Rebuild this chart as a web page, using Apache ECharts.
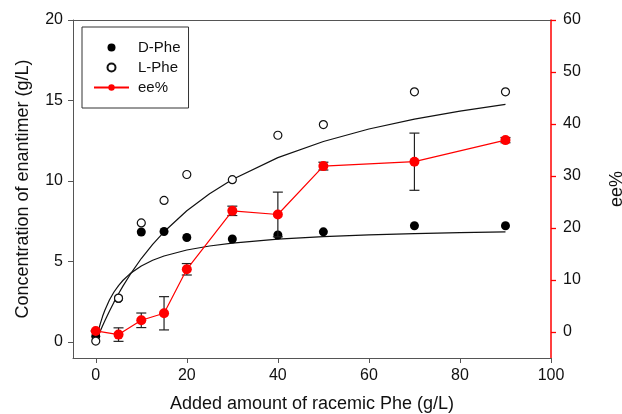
<!DOCTYPE html>
<html>
<head>
<meta charset="utf-8">
<style>
  html, body { margin: 0; padding: 0; background: #fff; }
  #main { width: 622px; height: 414px; }
</style>
<script src="https://cdn.jsdelivr.net/npm/echarts@6/dist/echarts.min.js"></script>
</head>
<body>
<div id="main"></div>
<script>
// 外消旋Phe添加量 (g/L)
var added = [0, 5, 10, 15, 20, 30, 40, 50, 70, 90];
var dPhe = [0.35, 2.7, 6.83, 6.86, 6.49, 6.39, 6.64, 6.84, 7.22, 7.22];
var lPhe = [0.05, 2.72, 7.39, 8.79, 10.4, 10.08, 12.84, 13.5, 15.54, 15.54];
var ee = [0.2, -0.5, 2.25, 3.6, 12.06, 23.3, 22.6, 31.9, 32.75, 36.9];
var eeErr = [0, 1.3, 1.4, 3.2, 1.1, 0.9, 4.3, 0.75, 5.5, 0.5];

// fitted curves
var fitX = [0, 0.5, 1, 1.5, 2, 3, 4, 5, 6, 7.5, 10, 12.5, 15, 20, 25, 30, 40, 50, 60, 70, 80, 90];
var fitD = [0, 0.62, 1.14, 1.59, 1.97, 2.6, 3.1, 3.5, 3.83, 4.23, 4.72, 5.07, 5.34, 5.71, 5.96, 6.14, 6.39, 6.54, 6.65, 6.73, 6.79, 6.83];
var fitL = [0, 0.35, 0.68, 1.01, 1.32, 1.91, 2.47, 2.99, 3.48, 4.16, 5.18, 6.06, 6.84, 8.15, 9.21, 10.09, 11.45, 12.45, 13.23, 13.84, 14.34, 14.76];

var xTicks = [0, 20, 40, 60, 80, 100];
var leftTicks = [0, 5, 10, 15, 20];
var rightTicks = [0, 10, 20, 30, 40, 50, 60];

var font = 'Liberation Sans, Arial, sans-serif';
var red = '#ff0000';

function pairs(xs, ys) {
  return xs.map(function (x, i) { return [x, ys[i]]; });
}

var myChart = echarts.init(document.getElementById('main'));
myChart.setOption({
  animation: false,
  textStyle: { fontFamily: font },
  grid: {
    left: 73, right: 71, top: 20, bottom: 56,
    outerBoundsMode: 'none',
    containLabel: false
  },
  legend: {
    data: ['D-Phe', 'L-Phe', 'ee%'],
    orient: 'vertical',
    left: 82, top: 27,
    padding: [13, 8, 13, 11],
    itemGap: 5,
    itemWidth: 35,
    itemHeight: 8,
    borderColor: '#333',
    borderWidth: 1,
    textStyle: { fontSize: 15, color: '#111', fontFamily: font, padding: [0, 0, 0, 4] }
  },
  xAxis: [{
    type: 'value',
    min: -5, max: 100,
    name: 'Added amount of racemic Phe (g/L)',
    nameLocation: 'middle',
    nameGap: 37,
    nameTextStyle: { fontSize: 18, color: '#111' },
    axisLine: { onZero: false, lineStyle: { color: '#555' } },
    axisTick: { length: 5, lineStyle: { color: '#555' }, customValues: xTicks },
    axisLabel: { fontSize: 16, color: '#111', margin: 10, customValues: xTicks },
    splitLine: { show: false }
  }, {
    // top frame line only
    type: 'value',
    position: 'top',
    min: -5, max: 100,
    axisLine: { show: true, onZero: false, lineStyle: { color: '#555' } },
    axisTick: { show: false },
    axisLabel: { show: false },
    splitLine: { show: false }
  }],
  yAxis: [{
    type: 'value',
    min: -1, max: 20,
    name: 'Concentration of enantimer (g/L)',
    nameLocation: 'middle',
    nameGap: 41,
    nameRotate: 90,
    nameTextStyle: { fontSize: 18, color: '#111' },
    axisLine: { show: true, onZero: false, lineStyle: { color: '#555' } },
    axisTick: { show: true, length: 5, lineStyle: { color: '#555' }, customValues: leftTicks },
    axisLabel: { fontSize: 16, color: '#111', margin: 10, customValues: leftTicks },
    splitLine: { show: false }
  }, {
    type: 'value',
    position: 'right',
    min: -5, max: 60,
    name: 'ee%',
    nameLocation: 'middle',
    nameGap: 57,
    nameRotate: 90,
    nameTextStyle: { fontSize: 18, color: '#111' },
    axisLine: { show: true, onZero: false, lineStyle: { color: red, width: 1.5 } },
    axisTick: { show: true, length: 5, lineStyle: { color: red, width: 1.3 }, customValues: rightTicks },
    axisLabel: { fontSize: 16, color: '#111', margin: 12, customValues: rightTicks },
    splitLine: { show: false }
  }],
  series: [
    {
      name: 'fitD',
      type: 'line',
      data: pairs(fitX, fitD),
      showSymbol: false,
      lineStyle: { color: '#111', width: 1.2 },
      z: 1
    },
    {
      name: 'fitL',
      type: 'line',
      data: pairs(fitX, fitL),
      showSymbol: false,
      lineStyle: { color: '#111', width: 1.2 },
      z: 1
    },
    {
      name: 'D-Phe',
      type: 'scatter',
      data: pairs(added, dPhe),
      symbol: 'circle',
      symbolSize: 9,
      itemStyle: { color: '#000', opacity: 1 },
      z: 2
    },
    {
      name: 'L-Phe',
      type: 'scatter',
      data: pairs(added, lPhe),
      symbol: 'circle',
      symbolSize: 8,
      itemStyle: { color: '#fff', borderColor: '#111', borderWidth: 1.2, opacity: 1 },
      z: 3
    },
    {
      name: 'err',
      type: 'custom',
      yAxisIndex: 1,
      data: added.map(function (x, i) { return [x, ee[i] - eeErr[i], ee[i] + eeErr[i]]; }),
      renderItem: function (params, api) {
        var lo = api.coord([api.value(0), api.value(1)]);
        var hi = api.coord([api.value(0), api.value(2)]);
        var w = 5;
        var style = { stroke: '#222', lineWidth: 1.2 };
        return {
          type: 'group',
          children: [
            { type: 'line', shape: { x1: lo[0], y1: lo[1], x2: hi[0], y2: hi[1] }, style: style },
            { type: 'line', shape: { x1: lo[0] - w, y1: lo[1], x2: lo[0] + w, y2: lo[1] }, style: style },
            { type: 'line', shape: { x1: hi[0] - w, y1: hi[1], x2: hi[0] + w, y2: hi[1] }, style: style }
          ]
        };
      },
      z: 4
    },
    {
      name: 'ee%',
      type: 'line',
      yAxisIndex: 1,
      data: pairs(added, ee),
      symbol: 'circle',
      symbolSize: 10,
      itemStyle: { color: red },
      lineStyle: { color: red, width: 1.2 },
      z: 5
    }
  ]
});
</script>
</body>
</html>
